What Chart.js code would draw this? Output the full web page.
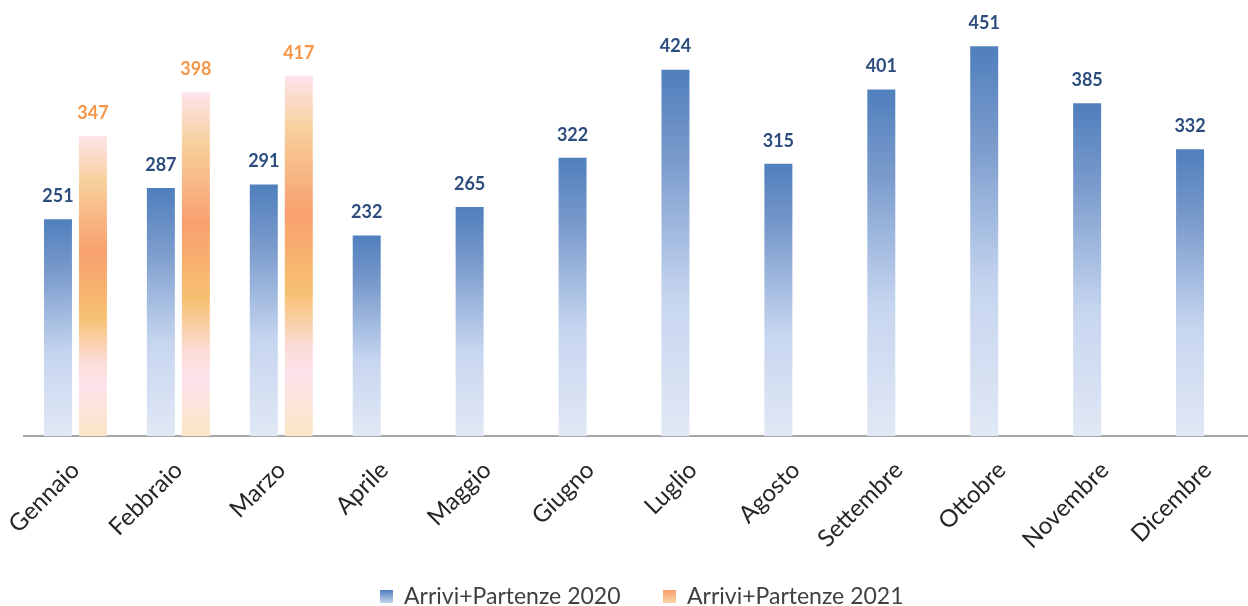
<!DOCTYPE html>
<html>
<head>
<meta charset="utf-8">
<script src="https://cdn.jsdelivr.net/npm/chart.js@4.4.1/dist/chart.umd.min.js"></script>
<style>
  html, body { margin: 0; padding: 0; background: #ffffff; overflow: hidden; }
  #wrap { position: relative; width: 1277px; height: 606px; }
</style>
</head>
<body>
<div id="wrap"><canvas id="c" width="1277" height="606"></canvas></div>
<script>
const months = ['Gennaio','Febbraio','Marzo','Aprile','Maggio','Giugno','Luglio','Agosto','Settembre','Ottobre','Novembre','Dicembre'];
const arrivi2020 = [251, 287, 291, 232, 265, 322, 424, 315, 401, 451, 385, 332];
const arrivi2021 = [347, 398, 417, null, null, null, null, null, null, null, null, null];
const seriesNames = ['Arrivi+Partenze 2020', 'Arrivi+Partenze 2021'];
const yMax = 500;

const blueStops = [[0,'#4f7fbd'],[0.25,'#7b9bcc'],[0.45,'#a3bbe0'],[0.62,'#c6d5ef'],[1,'#e1e8f5']];
const orangeStops = [[0,'#fde4ea'],[0.15,'#f7d09c'],[0.38,'#f8a06f'],[0.6,'#f7c070'],[0.75,'#fbdcd4'],[0.83,'#fde3ec'],[1,'#fae6c6']];
const blueLabel = '#2c4d7e';
const orangeLabel = '#f79646';

function barGradient(context, stops) {
  const chart = context.chart;
  const { chartArea, scales } = chart;
  if (!chartArea || !scales.y) return stops[0][1];
  const v = context.raw;
  if (v == null) return 'rgba(0,0,0,0)';
  const top = scales.y.getPixelForValue(v);
  const base = scales.y.getPixelForValue(0);
  if (!isFinite(top) || !isFinite(base) || top === base) return stops[0][1];
  const g = chart.ctx.createLinearGradient(0, top, 0, base);
  stops.forEach(s => g.addColorStop(s[0], s[1]));
  return g;
}

function legendSwatch(stops) {
  const cv = document.createElement('canvas');
  cv.width = 13; cv.height = 13;
  const x = cv.getContext('2d');
  const g = x.createLinearGradient(0, 0, 0, 13);
  stops.forEach(s => g.addColorStop(s[0], s[1]));
  x.fillStyle = g;
  x.fillRect(0, 0, 13, 13);
  return cv;
}
const swatches = [legendSwatch([[0,'#4f7fbd'],[1,'#c6d5ef']]), legendSwatch([[0,'#f8a06f'],[1,'#fbd3a8']])];

const valueLabels = {
  id: 'valueLabels',
  beforeDraw(chart) {
    // let rotated month labels extend below the axis box without clipping
    if (chart.scales.x) chart.scales.x._computeLabelArea = function () { return undefined; };
  },
  afterDatasetsDraw(chart) {
    const ctx = chart.ctx;
    ctx.save();
    ctx.font = 'bold 18px Lato';
    ctx.textAlign = 'center';
    ctx.textBaseline = 'middle';
    chart.data.datasets.forEach((ds, di) => {
      const meta = chart.getDatasetMeta(di);
      meta.data.forEach((bar, i) => {
        const v = ds.data[i];
        if (v == null) return;
        ctx.fillStyle = di === 0 ? blueLabel : orangeLabel;
        ctx.fillText(String(v), bar.x, bar.y - 23);
      });
    });
    ctx.restore();
  }
};

new Chart(document.getElementById('c'), {
  type: 'bar',
  data: {
    labels: months,
    datasets: [
      { label: seriesNames[0], data: arrivi2020, backgroundColor: c => barGradient(c, blueStops), borderWidth: 0 },
      { label: seriesNames[1], data: arrivi2021, backgroundColor: c => barGradient(c, orangeStops), borderWidth: 0 }
    ]
  },
  options: {
    responsive: false,
    animation: false,
    devicePixelRatio: 1,
    categoryPercentage: 0.68,
    barPercentage: 0.8,
    layout: { padding: { left: 24, right: 18, top: 4, bottom: -12 } },
    plugins: {
      tooltip: { enabled: false },
      legend: {
        position: 'bottom',
        labels: {
          usePointStyle: true,
          boxWidth: 13,
          boxHeight: 13,
          font: { family: 'Lato', size: 23 },
          color: '#404040',
          padding: 42,
          generateLabels(chart) {
            return chart.data.datasets.map((ds, i) => ({
              text: ds.label,
              pointStyle: swatches[i],
              fillStyle: 'transparent',
              strokeStyle: 'transparent',
              lineWidth: 0,
              hidden: false,
              datasetIndex: i,
              fontColor: '#404040'
            }));
          }
        }
      }
    },
    scales: {
      x: {
        grid: { display: false, drawTicks: false },
        border: { display: true, color: '#a6a6a6', width: 2 },
        ticks: {
          minRotation: 45, maxRotation: 45, autoSkip: false,
          color: '#262626',
          font: { family: 'Lato', size: 24 },
          padding: 20
        },
        afterFit(scale) {
          scale.height = 107;
          scale.paddingLeft = 0;
          scale.paddingRight = 0;
        }
      },
      y: {
        display: false,
        min: 0, max: yMax
      }
    }
  },
  plugins: [valueLabels]
});
</script>
</body>
</html>
